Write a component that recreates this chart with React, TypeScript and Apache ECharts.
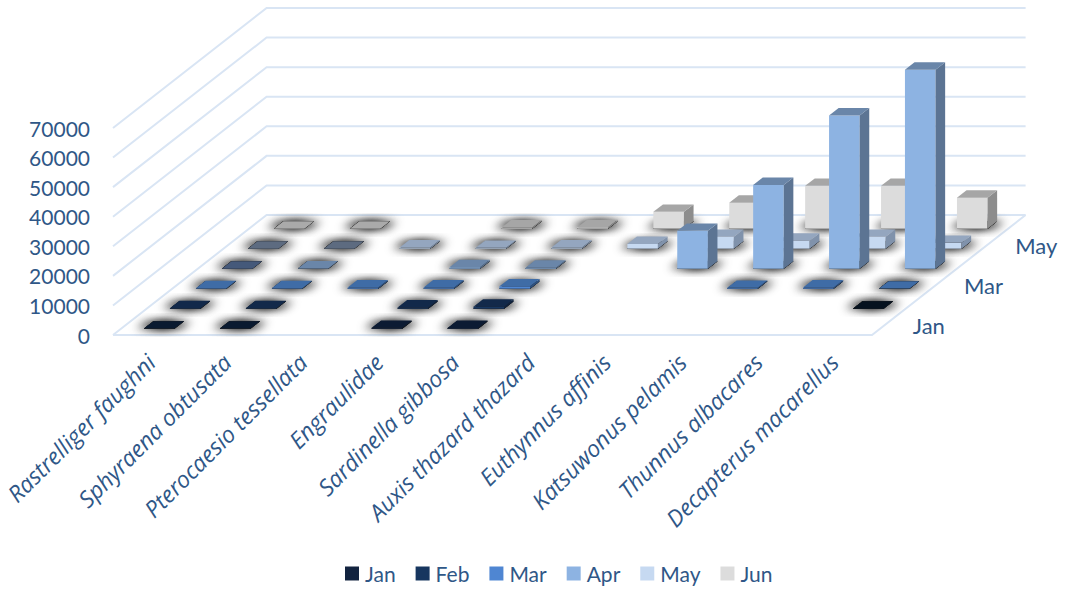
import React, { useEffect, useRef } from "react";
import * as echarts from "echarts";

const species = [
  "Rastrelliger faughni", "Sphyraena obtusata", "Pterocaesio tessellata", "Engraulidae",
  "Sardinella gibbosa", "Auxis thazard thazard", "Euthynnus affinis", "Katsuwonus pelamis",
  "Thunnus albacares", "Decapterus macarellus",
];
const months = ["Jan", "Feb", "Mar", "Apr", "May", "Jun"];
const depthLabels = ["Jan", "", "Mar", "", "May", ""];
const jan = [30, 30, null, 300, 250, null, null, null, null, null];
const feb = [150, 150, null, 400, 700, null, null, null, null, 20];
const mar = [150, 150, 400, 400, 800, null, null, 300, 400, 30];
const apr = [20, 80, null, 500, 350, null, 12800, 28300, 51800, 67300];
const may = [20, 20, 400, 300, 400, 1600, 4000, 2700, 4000, 2000];
const jun = [20, 20, null, 400, 500, 5700, 8800, 14500, 14500, 10500];
const monthValues = [jan, feb, mar, apr, may, jun];
const yTicks = [0, 10000, 20000, 30000, 40000, 50000, 60000, 70000];

const FRONT = ["#12233f", "#17365f", "#4f86d2", "#8db3e2", "#c6d9f1", "#dcdcdc"];
const TOP = ["#0c1b33", "#12294a", "#3f6ca6", "#6a86a9", "#94a6bf", "#a6a6a6"];
const SIDE = ["#0a1629", "#0f223e", "#2e5180", "#5c7493", "#8092ab", "#8d8d8d"];
const FLAT_TOP = ["#0a1a30", "#06121f", "#3f6ca6", "#45597a", "#5d6b80", "#aaaaaa"];
const TEXT = "#2f5787";
const WALL = "#d9e5f4";
const FONT = "Lato, Carlito, sans-serif";

const ROW_DX = 25.6;
const BAR_ROW_DX = 26;
const ROW_DY = 20;
const HALF_W = 15.3;
const DEPTH_X = 9.6;
const DEPTH_Y = 7.4;
const FLAT = 60;
const ROWS = 6;
const SHADOW_OFFSETS = [-9, -5, 0, 5, 9];

function poly(points: number[][], fill: string, extra: any = {}) {
  return { type: "polygon", silent: true, shape: { points }, style: { fill, ...extra } };
}

function barRenderer(row: number) {
  return (_p: any, api: any) => {
    const c = api.value(0);
    const v = api.value(1);
    const base = api.coord([c, 0]);
    const top = api.coord([c, v]);
    const dx = (row + 0.5) * BAR_ROW_DX;
    const dy = (row + 0.5) * ROW_DY;
    const l = base[0] + dx - DEPTH_X / 2 - HALF_W;
    const r = l + 2 * HALF_W;
    const y0 = base[1] - dy + DEPTH_Y / 2;
    const y1 = top[1] - dy + DEPTH_Y / 2;
    const footprint = [[l, y0], [r, y0], [r + DEPTH_X, y0 - DEPTH_Y], [l + DEPTH_X, y0 - DEPTH_Y]];
    const children: any[] = SHADOW_OFFSETS.map((off) =>
      poly(footprint, "#222222", {
        shadowBlur: 8,
        shadowColor: "rgba(0,0,0,0.38)",
        shadowOffsetX: off,
        shadowOffsetY: 0,
      })
    );
    if (v > FLAT) {
      children.push(
        poly([[l, y0], [r, y0], [r, y1], [l, y1]], FRONT[row]),
        poly([[r, y0], [r + DEPTH_X, y0 - DEPTH_Y], [r + DEPTH_X, y1 - DEPTH_Y], [r, y1]], SIDE[row])
      );
    }
    children.push(
      poly(
        [[l, y1], [r, y1], [r + DEPTH_X, y1 - DEPTH_Y], [l + DEPTH_X, y1 - DEPTH_Y]],
        v > FLAT ? TOP[row] : FLAT_TOP[row]
      )
    );
    return { type: "group", children };
  };
}

function wallRenderer(_p: any, api: any) {
  const v = api.value(0);
  const a = api.coord([0, v]);
  const end = api.coord([species.length - 1, 0]);
  const band = api.size([1, 0])[0];
  const x0 = a[0] - band / 2;
  const x1 = end[0] + band / 2;
  const backDx = ROWS * ROW_DX;
  const backDy = ROWS * ROW_DY;
  const style = { stroke: WALL, lineWidth: 2, fill: "none" };
  const children: any[] = [
    {
      type: "polyline",
      silent: true,
      shape: { points: [[x0, a[1]], [x0 + backDx, a[1] - backDy], [x1 + backDx, a[1] - backDy]] },
      style,
    },
  ];
  if (v === 0) {
    children.push({
      type: "polyline",
      silent: true,
      shape: { points: [[x0, a[1]], [x1, a[1]], [x1 + backDx, a[1] - backDy]] },
      style,
    });
  }
  return { type: "group", children };
}

function depthLabelRenderer(_p: any, api: any) {
  const row = api.value(0);
  const end = api.coord([species.length - 1, 0]);
  const band = api.size([1, 0])[0];
  return {
    type: "text",
    silent: true,
    x: end[0] + band / 2 + (row + 0.5) * ROW_DX + 28,
    y: end[1] - (row + 0.5) * ROW_DY,
    style: {
      text: depthLabels[row],
      fill: TEXT,
      font: `22px ${FONT}`,
      textAlign: "left",
      textVerticalAlign: "middle",
    },
  };
}

export default function App() {
  const ref = useRef<HTMLDivElement>(null);
  useEffect(() => {
    const chart = echarts.init(ref.current!, undefined, { renderer: "svg" });
    const barSeries = months
      .map((name, row) => ({
        type: "custom",
        name,
        renderItem: barRenderer(row),
        itemStyle: { color: FRONT[row] },
        data: monthValues[row].flatMap((v, c) => (v === null ? [] : [[c, v]])),
        z: 3,
      }))
      .reverse();
    chart.setOption({
      animation: false,
      backgroundColor: "#fff",
      textStyle: { fontFamily: FONT },
      grid: { left: 113, top: 128, width: 759, height: 207, containLabel: false },
      legend: {
        data: months,
        left: 340,
        top: 558,
        itemWidth: 14,
        itemHeight: 14,
        itemGap: 20,
        icon: "rect",
        selectedMode: false,
        textStyle: { color: TEXT, fontSize: 21, fontFamily: FONT, padding: [0, 0, 0, 1] },
      },
      xAxis: {
        type: "category",
        data: species,
        axisLine: { show: false },
        axisTick: { show: false },
        splitLine: { show: false },
        axisLabel: {
          interval: 0,
          rotate: 45,
          margin: 23,
          color: TEXT,
          fontSize: 23,
          fontStyle: "italic",
          fontFamily: "'Open Sans', sans-serif",
        },
      },
      yAxis: {
        type: "value",
        min: 0,
        max: 70000,
        interval: 10000,
        axisLine: { show: false },
        axisTick: { show: false },
        splitLine: { show: false },
        axisLabel: {
          margin: 23,
          color: TEXT,
          fontSize: 21,
          fontFamily: FONT,
          formatter: (v: number) => String(v),
        },
      },
      series: [
        {
          type: "custom",
          name: "wall",
          renderItem: wallRenderer,
          data: yTicks.map((v) => [v]),
          encode: { x: -1, y: 0 },
          z: 1,
        },
        ...barSeries,
        {
          type: "custom",
          name: "depth",
          renderItem: depthLabelRenderer,
          data: depthLabels.flatMap((t, i) => (t ? [[i]] : [])),
          encode: { x: -1, y: -1 },
          z: 4,
        },
      ],
    });
    return () => chart.dispose();
  }, []);
  return (
    <div
      ref={ref}
      style={{ position: "absolute", left: 0, top: 0, width: 1067, height: 589, background: "#fff" }}
    />
  );
}
